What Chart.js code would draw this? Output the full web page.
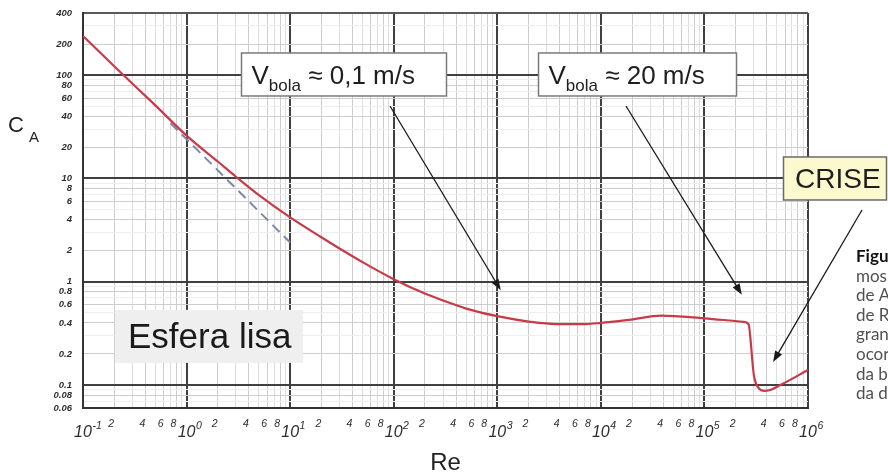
<!DOCTYPE html>
<html><head><meta charset="utf-8">
<script src="https://cdn.jsdelivr.net/npm/chart.js@4/dist/chart.umd.min.js"></script>
<style>html,body{margin:0;padding:0;background:#fff;}canvas{display:block;}</style>
</head><body>
<canvas id="c" width="888" height="474"></canvas>
<script>
// ---- data ----
const reynolds = [0.1, 0.2, 0.5, 1, 2, 3, 5, 10, 20, 30, 50, 100, 200, 324, 500, 1000, 2090, 3700, 7300, 10000, 19600, 38000, 100000, 238000, 266000, 300000, 330000, 380000, 420000, 540000, 1000000];
const dragCoef  = [240, 122, 51, 26, 14.6, 10.4, 6.9, 4.2, 2.7, 2.1, 1.55, 1.06, 0.77, 0.64, 0.55, 0.465, 0.41, 0.39, 0.39, 0.40, 0.43, 0.47, 0.443, 0.41, 0.39, 0.125, 0.095, 0.088, 0.089, 0.10, 0.14];
const stokesRe = [0.7, 10];
const stokesCd = [34.3, 2.4];
const xDecadeExponents = ['-1', '0', '1', '2', '3', '4', '5', '6'];
const xMinorLabels = ['2', '4', '6', '8'];
const yTickValues = [400, 200, 100, 80, 60, 40, 20, 10, 8, 6, 4, 2, 1, 0.8, 0.6, 0.4, 0.2, 0.1, 0.08, 0.06];
const yTickLabels = ['400', '200', '100', '80', '60', '40', '20', '10', '8', '6', '4', '2', '1', '0.8', '0.6', '0.4', '0.2', '0.1', '0.08', '0.06'];
const captionLines = ['Figu', 'mos', 'de A', 'de R', 'gran', 'ocor', 'da b', 'da d'];

function mant(v) {
  const e = Math.floor(Math.log10(v) + 1e-9);
  return Math.round(v / Math.pow(10, e));
}
function isDecade(v) { return mant(v) === 1 || mant(v) === 10; }
function logTicks(min, max) {
  const out = [];
  for (let e = -3; e <= 7; e++) {
    for (let k = 1; k <= 9; k++) {
      const v = parseFloat((k * Math.pow(10, e)).toPrecision(6));
      if (v >= min * 0.999 && v <= max * 1.001) out.push({ value: v });
    }
  }
  return out;
}
function gridColor(ctx, isY) {
  const v = ctx.tick.value;
  if (isDecade(v)) return '#404040';
  if (isY && Math.abs(v - 400) < 1e-6) return '#5a5a5a';
  const m = mant(v);
  if (m % 2 === 0) return '#cdcdcd';
  return isY ? '#eeeeee' : '#dedede';
}
function gridWidth(ctx, isY) {
  const v = ctx.tick.value;
  if (isDecade(v)) return 2;
  if (isY && Math.abs(v - 400) < 1e-6) return 2;
  return 1;
}

function drawArrow(ctx, x1, y1, x2, y2) {
  const ang = Math.atan2(y2 - y1, x2 - x1);
  const L = 11, W = 4;
  ctx.beginPath();
  ctx.moveTo(x1, y1);
  ctx.lineTo(x2 - L * 0.6 * Math.cos(ang), y2 - L * 0.6 * Math.sin(ang));
  ctx.stroke();
  ctx.beginPath();
  ctx.moveTo(x2, y2);
  ctx.lineTo(x2 - L * Math.cos(ang) + W * Math.sin(ang), y2 - L * Math.sin(ang) - W * Math.cos(ang));
  ctx.lineTo(x2 - L * Math.cos(ang) - W * Math.sin(ang), y2 - L * Math.sin(ang) + W * Math.cos(ang));
  ctx.closePath();
  ctx.fill();
}

const overlay = {
  id: 'overlay',
  afterDraw(chart) {
    const { ctx, chartArea: ca } = chart;
    const xs = chart.scales.x, ys = chart.scales.y;
    const X = v => xs.getPixelForValue(v), Y = v => ys.getPixelForValue(v);
    ctx.save();
    const SANS = '"Liberation Sans", Arial, sans-serif';

    // y tick labels
    ctx.fillStyle = '#2e2e2e';
    ctx.font = 'italic bold 9.5px ' + SANS;
    ctx.textAlign = 'right';
    ctx.textBaseline = 'middle';
    yTickValues.forEach((v, i) => ctx.fillText(yTickLabels[i], ca.left - 11, Y(v)));

    // x tick labels
    ctx.textBaseline = 'alphabetic';
    xDecadeExponents.forEach((ex) => {
      const e = parseInt(ex, 10);
      const px = X(Math.pow(10, e));
      ctx.font = 'italic 16px ' + SANS;
      ctx.textAlign = 'center';
      ctx.fillText('10', px, ca.bottom + 29);
      const w = ctx.measureText('10').width;
      ctx.font = 'italic 10.5px ' + SANS;
      ctx.textAlign = 'left';
      ctx.fillText(ex, px + w / 2 + 0.5, ca.bottom + 21);
      if (e < 6) {
        ctx.font = 'italic 10.5px ' + SANS;
        ctx.textAlign = 'center';
        xMinorLabels.forEach(k => {
          ctx.fillText(k, X(parseFloat(k) * Math.pow(10, e)) - 3, ca.bottom + 19);
        });
      }
    });

    // axis titles
    ctx.fillStyle = '#222';
    ctx.textAlign = 'left';
    ctx.font = '22px ' + SANS;
    ctx.fillText('C', 8, Y(40) + 16);
    ctx.font = '15px ' + SANS;
    ctx.fillText('A', 29, Y(40) + 26);
    ctx.font = '24px ' + SANS;
    ctx.textAlign = 'center';
    ctx.fillText('Re', X(Math.pow(10, 2.5)), ca.bottom + 62);

    // boxes
    function vBox(left, top, w, h, rest) {
      ctx.fillStyle = '#ffffff';
      ctx.fillRect(left, top, w, h);
      ctx.strokeStyle = '#7a7a7a';
      ctx.lineWidth = 1.5;
      ctx.strokeRect(left, top, w, h);
      ctx.fillStyle = '#1e1e1e';
      ctx.textAlign = 'left';
      let cx = left + 10;
      const base = top + 31.5;
      ctx.font = '26px ' + SANS;
      ctx.fillText('V', cx, base);
      cx += ctx.measureText('V').width;
      ctx.font = '17px ' + SANS;
      ctx.fillText('bola', cx, base + 7);
      cx += ctx.measureText('bola').width;
      ctx.font = '26px ' + SANS;
      ctx.fillText(rest, cx, base);
    }
    const topY = Y(10) - 125.5;
    vBox(241.5, topY, 205, 43, ' \u2248 0,1 m/s');
    vBox(538.5, topY, 198, 43, ' \u2248 20 m/s');

    // CRISE box
    const cTop = Y(10) - 21.5;
    ctx.fillStyle = '#fbf9cd';
    ctx.fillRect(783.5, cTop, 103, 43);
    ctx.strokeStyle = '#6a6a6a';
    ctx.lineWidth = 1.5;
    ctx.strokeRect(783.5, cTop, 103, 43);
    ctx.fillStyle = '#1e1e1e';
    ctx.font = '28px ' + SANS;
    ctx.textAlign = 'left';
    ctx.fillText('CRISE', 795, cTop + 31.5);

    // Esfera lisa box
    ctx.fillStyle = '#efefef';
    ctx.fillRect(115, Y(0.4) - 13, 188, 53);
    ctx.fillStyle = '#1a1a1a';
    ctx.font = '35px ' + SANS;
    ctx.fillText('Esfera lisa', 128, Y(0.4) + 25);

    // arrows (tips anchored in data coordinates)
    ctx.strokeStyle = '#1a1a1a';
    ctx.fillStyle = '#1a1a1a';
    ctx.lineWidth = 1.3;
    drawArrow(ctx, 390, topY + 53, X(1080), Y(0.83));
    drawArrow(ctx, 626, topY + 53, X(2.3e5), Y(0.75));
    drawArrow(ctx, 862, cTop + 53, X(4.6e5), Y(0.167));

    // caption (cut by the picture's edge)
    ctx.textAlign = 'left';
    captionLines.forEach((t, i) => {
      ctx.font = (i === 0 ? 'bold ' : '') + '17px Lato, "Liberation Sans", sans-serif';
      ctx.fillStyle = i === 0 ? '#111' : '#505050';
      ctx.fillText(t, 856, 262 + i * 19.6);
    });
    ctx.restore();
  }
};

new Chart(document.getElementById('c'), {
  type: 'scatter',
  data: {
    datasets: [
      {
        data: reynolds.map((r, i) => ({ x: r, y: dragCoef[i] })),
        showLine: true, borderColor: '#c93a48', borderWidth: 2.2,
        pointRadius: 0, cubicInterpolationMode: 'monotone', fill: false
      },
      {
        data: stokesRe.map((r, i) => ({ x: r, y: stokesCd[i] })),
        showLine: true, borderColor: '#7d87a6', borderWidth: 2,
        borderDash: [10, 6], pointRadius: 0, tension: 0, fill: false
      }
    ]
  },
  options: {
    responsive: false,
    animation: false,
    devicePixelRatio: 1,
    layout: { padding: { left: 83, right: 80, top: 13, bottom: 66 } },
    plugins: { legend: { display: false }, tooltip: { enabled: false } },
    scales: {
      x: {
        type: 'logarithmic', min: 0.1, max: 1e6,
        afterBuildTicks: s => { s.ticks = logTicks(0.1, 1e6); },
        ticks: { display: false },
        grid: { drawTicks: false, color: c => gridColor(c, false), lineWidth: c => gridWidth(c, false) },
        border: { display: true, color: '#333', width: 2 }
      },
      y: {
        type: 'logarithmic', min: 0.06, max: 400,
        afterBuildTicks: s => { s.ticks = logTicks(0.06, 400); },
        ticks: { display: false },
        grid: { drawTicks: false, color: c => gridColor(c, true), lineWidth: c => gridWidth(c, true) },
        border: { display: true, color: '#333', width: 2 }
      }
    }
  },
  plugins: [overlay]
});
</script>
</body></html>
